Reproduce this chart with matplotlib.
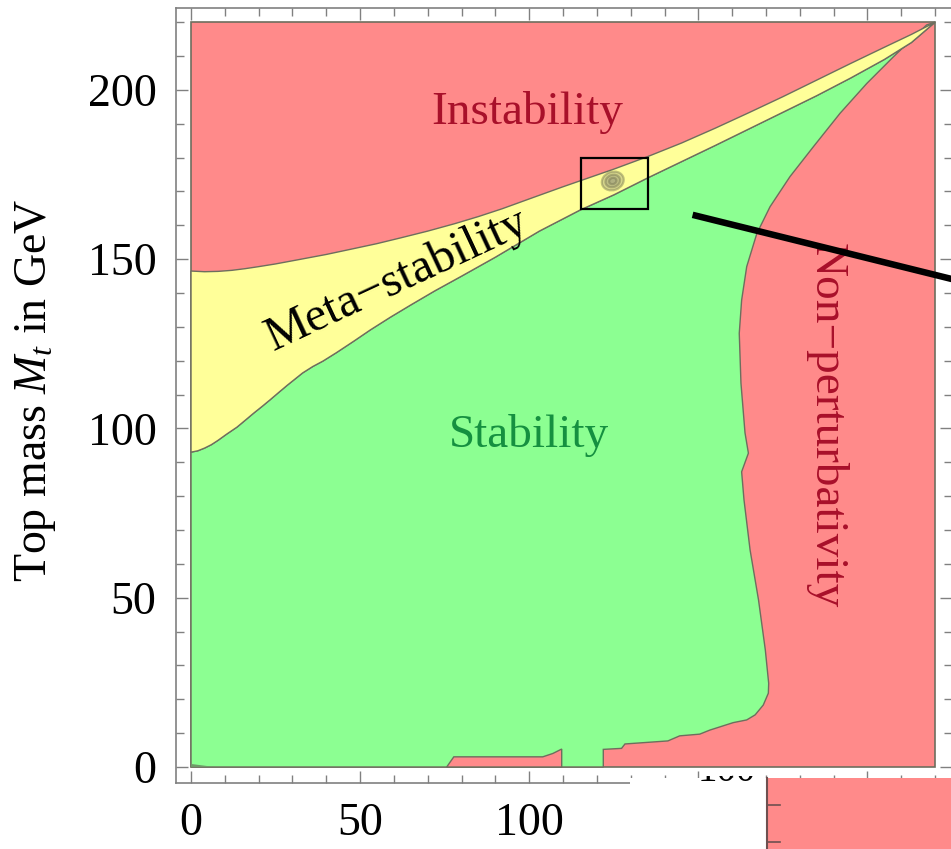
import matplotlib.pyplot as plt
from matplotlib.patches import Polygon, Rectangle, Ellipse
from matplotlib.transforms import Bbox, TransformedBbox

plt.rcParams['font.family'] = ['Liberation Serif', 'DejaVu Serif']
plt.rcParams['mathtext.fontset'] = 'custom'
plt.rcParams['mathtext.rm'] = 'Liberation Serif'
plt.rcParams['mathtext.it'] = 'Liberation Serif:italic'

# Grenze Instabilitaet / Meta-Stabilitaet (Higgs-Masse, Top-Masse in GeV)
upper_mh = [0, 4, 8, 12, 16, 20, 25, 32, 40, 48, 55, 62, 70, 78, 85, 92, 100, 110,
            125, 135, 145, 155, 165, 175, 185, 195, 205, 213, 220]
upper_mt = [146.5, 146.3, 146.4, 146.7, 147.2, 147.8, 148.6, 149.9, 151.4, 153.1,
            154.6, 156.3, 158.3, 160.5, 162.6, 164.9, 167.8, 171.4,
            176.6, 180.3, 184.3, 188.7, 193.3, 198.0, 202.9, 207.8, 212.6, 216.4, 220]

# Grenze Meta-Stabilitaet / Stabilitaet
lower_mh = [0, 2, 4, 6, 8, 10.5, 13.6, 16, 18.5, 21, 23.3, 26, 28.5, 31, 33, 36, 39,
            43, 48, 53, 59, 65, 72, 80, 90, 103, 115, 125, 135, 145, 155, 165, 175,
            185, 195, 205, 213, 220]
lower_mt = [93, 93.4, 94.2, 95.2, 96.5, 98.3, 100.4, 102.4, 104.5, 106.5, 108.4,
            110.7, 112.8, 114.8, 116.4, 118.3, 119.9,
            122.4, 125.7, 129.1, 132.9, 136.5, 140.6, 145, 150.6, 158.3, 164.5, 169,
            174, 178.8, 183.6, 188.5, 193.4, 198.3, 203.5, 209.0, 214.0, 220]

# Grenze Stabilitaet / Nicht-Stoerungstheorie (von oben nach unten)
pert_mh = [220, 217.5, 207.7, 199.8, 191.9, 184.0, 177.1, 171.2, 167.3, 164.3, 162.8,
           162.1, 162.6, 163.8, 164.8, 162.8, 163.5, 165.3, 167.8, 169.8, 170.8,
           170.7, 169.2, 166.8, 164.3, 160.3, 153.4, 150.4, 144.5, 141.0, 128.3,
           127.3, 121.9, 121.9]
pert_mt = [220, 219.2, 209.8, 201.9, 193.1, 183.2, 174.4, 165.5, 157.6, 147.8, 137.9,
           128.1, 113.4, 98.7, 92.7, 87.2, 78.9, 64.1, 49.3, 34.6, 24.7,
           21.8, 18.3, 15.4, 13.9, 13.1, 10.9, 9.7, 9.2, 7.7, 6.8,
           5.5, 5.2, 0]

# roter Fleck unten
bump_mh = [75.6, 77.7, 104, 107, 109.6, 109.6]
bump_mt = [0, 3.0, 3.0, 4.0, 5.3, 0]

# Messpunkt mit Fehlerellipsen
best_mh = 124.7
best_mt = 173.1
ell_w = [6.6, 4.4, 2.2]
ell_h = [5.4, 3.6, 1.8]

# Zoom-Kasten und Zeiger
box_mh = [115.2, 135.0]
box_mt = [164.8, 179.9]
arrow_mh = [148.3, 225.5]
arrow_mt = [163.1, 144.0]

red = '#ff8a8a'
yellow = '#ffff99'
green = '#8cff92'
edge = '#6e6e5e'

fig = plt.figure(figsize=(9.51, 8.49), dpi=100)
ax = fig.add_axes([176 / 951, 66 / 849, 776 / 951, 775 / 849])
ax.set_xlim(-4.44, 225.0)
ax.set_ylim(-4.73, 224.2)

ax.add_patch(Rectangle((0, 0), 220, 220, facecolor=red, edgecolor=edge, lw=1.2, zorder=1))

green_pts = ([(0, 0)] + list(zip(lower_mh, lower_mt))
             + list(zip(pert_mh, pert_mt)) + [(0, 0)])
ax.add_patch(Polygon(green_pts, closed=True, facecolor=green, edgecolor=edge, lw=1.0, zorder=2))

yellow_pts = list(zip(upper_mh, upper_mt)) + list(zip(lower_mh[::-1], lower_mt[::-1]))
ax.add_patch(Polygon(yellow_pts, closed=True, facecolor=yellow, edgecolor=edge, lw=1.0, zorder=3))

ax.add_patch(Polygon(list(zip(bump_mh, bump_mt)), closed=True, facecolor=red,
                     edgecolor=edge, lw=1.0, zorder=3))
ax.add_patch(Polygon([(0, 0), (0, 0.9), (7, 0)], closed=True, facecolor='#6f9a68',
                     edgecolor='none', zorder=3))

for w, h in zip(ell_w, ell_h):
    ax.add_patch(Ellipse((best_mh, best_mt), w, h, angle=20, facecolor='#9a9a7a',
                         alpha=0.4, edgecolor='#6a6a48', lw=1.6, zorder=4))

ax.add_patch(Rectangle((box_mh[0], box_mt[0]), box_mh[1] - box_mh[0], box_mt[1] - box_mt[0],
                       facecolor='none', edgecolor='black', lw=1.6, zorder=5))
ax.plot(arrow_mh, arrow_mt, color='black', lw=4.7, solid_capstyle='butt',
        clip_on=False, zorder=6)

ax.text(99.5, 189.9, 'Instability', color='#a8102a', fontsize=34, ha='center', va='baseline', zorder=5)
ax.text(99.8, 94.5, 'Stability', color='#159040', fontsize=34, ha='center', va='baseline', zorder=5)
ax.text(62.5, 140.6, 'Meta\u2212stability', color='black', fontsize=35, rotation=25,
        rotation_mode='anchor', ha='center', va='baseline', zorder=5)
ax.text(187.9, 100.7, 'Non\u2212perturbativity', color='#a8102a', fontsize=34,
        rotation=270, ha='center', va='center', zorder=5)

ax.set_xticks(range(0, 201, 50))
ax.set_xticks(range(0, 221, 10), minor=True)
ax.set_yticks(range(0, 201, 50))
ax.set_yticks(range(0, 221, 10), minor=True)
ax.tick_params(which='both', direction='in', top=True, right=True, color='#808080',
               width=1.0, labelsize=33, pad=14)
ax.tick_params(which='major', length=8.5)
ax.tick_params(which='minor', length=5.5)
for s in ax.spines.values():
    s.set_color('#808080')
    s.set_linewidth(1.2)

fig.text(36 / 951, 1 - 390 / 849, 'Top mass $M_t$ in GeV', rotation=90, fontsize=33,
         ha='center', va='center')

# Ueberlagerung unten rechts (Ausschnitt eines zweiten Bildes)
fig.add_artist(Rectangle((630 / 951, 0), 1 - 630 / 951, 71 / 849, transform=fig.transFigure,
                         facecolor='white', edgecolor='none', zorder=10))
t = fig.text(727 / 951, 1 - 781 / 849, '100', fontsize=28, ha='center', va='baseline', zorder=11)
t.set_clip_box(TransformedBbox(Bbox([[690 / 951, 1 - 781 / 849], [760 / 951, 1 - 776 / 849]]),
                               fig.transFigure))
fig.add_artist(Rectangle((767 / 951, 0), 1 - 767 / 951, 71 / 849, transform=fig.transFigure,
                         facecolor=red, edgecolor='none', zorder=11))
fig.add_artist(plt.Line2D([767 / 951, 767 / 951], [0, 71 / 849], transform=fig.transFigure,
                          color='#6e5050', lw=1.5, zorder=12))
for yp in [805, 842]:
    fig.add_artist(plt.Line2D([767 / 951, 780 / 951], [1 - yp / 849, 1 - yp / 849],
                              transform=fig.transFigure, color='#6e5050', lw=1.2, zorder=12))

fig.savefig('out.png', dpi=100)
